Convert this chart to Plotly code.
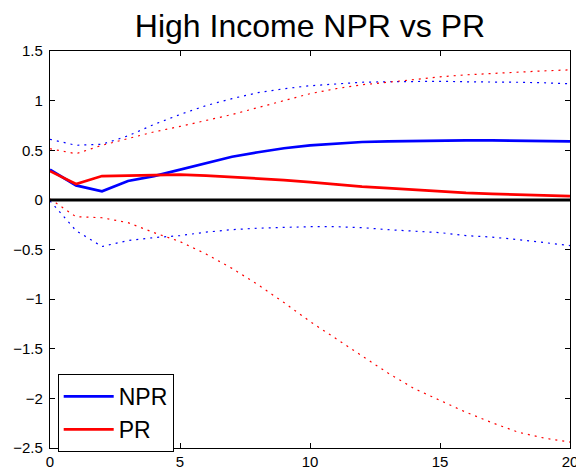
import plotly.graph_objects as go

x = list(range(21))

npr = [0.305, 0.146, 0.086, 0.19, 0.24, 0.305, 0.375, 0.435, 0.48, 0.52, 0.55,
       0.57, 0.583, 0.59, 0.595, 0.598, 0.6, 0.6, 0.598, 0.595, 0.59]
npr_upper = [0.61, 0.55, 0.56, 0.645, 0.76, 0.86, 0.95, 1.02, 1.08, 1.12, 1.15,
             1.17, 1.185, 1.19, 1.195, 1.195, 1.19, 1.19, 1.185, 1.18, 1.17]
npr_lower = [-0.01, -0.31, -0.47, -0.41, -0.38, -0.36, -0.325, -0.30, -0.285, -0.275, -0.27,
             -0.27, -0.28, -0.30, -0.315, -0.33, -0.36, -0.375, -0.40, -0.43, -0.46]

pr = [0.29, 0.16, 0.24, 0.247, 0.25, 0.255, 0.245, 0.232, 0.218, 0.2, 0.178,
      0.155, 0.133, 0.118, 0.1, 0.084, 0.07, 0.06, 0.052, 0.045, 0.038]
pr_upper = [0.515, 0.465, 0.55, 0.62, 0.685, 0.74, 0.80, 0.86, 0.93, 1.0, 1.07,
            1.12, 1.16, 1.185, 1.215, 1.24, 1.26, 1.275, 1.29, 1.30, 1.31]
pr_lower = [0.01, -0.17, -0.18, -0.23, -0.33, -0.42, -0.545, -0.69, -0.855, -1.035, -1.225,
            -1.40, -1.57, -1.745, -1.90, -2.02, -2.14, -2.245, -2.34, -2.40, -2.44]

zero = [0.0] * 21

x_ticks = [0, 5, 10, 15, 20]
x_ticktext = ["0", "5", "10", "15", "20"]
y_ticks = [-2.5, -2, -1.5, -1, -0.5, 0, 0.5, 1, 1.5]
y_ticktext = ["\u22122.5", "\u22122", "\u22121.5", "\u22121", "\u22120.5", "0", "0.5", "1", "1.5"]

BLUE = "#0000ff"
RED = "#ff0000"
DOT = "2px,5px"
FONT = "Liberation Sans, Arial, sans-serif"

fig = go.Figure()
fig.add_trace(go.Scatter(x=x, y=npr_upper, mode="lines", line=dict(color=BLUE, width=1.2, dash=DOT), showlegend=False))
fig.add_trace(go.Scatter(x=x, y=npr_lower, mode="lines", line=dict(color=BLUE, width=1.2, dash=DOT), showlegend=False))
fig.add_trace(go.Scatter(x=x, y=pr_upper, mode="lines", line=dict(color=RED, width=1.2, dash=DOT), showlegend=False))
fig.add_trace(go.Scatter(x=x, y=pr_lower, mode="lines", line=dict(color=RED, width=1.2, dash=DOT), showlegend=False))
fig.add_trace(go.Scatter(x=x, y=zero, mode="lines", line=dict(color="black", width=3), showlegend=False))
fig.add_trace(go.Scatter(x=x, y=npr, mode="lines", name="NPR", line=dict(color=BLUE, width=2.7)))
fig.add_trace(go.Scatter(x=x, y=pr, mode="lines", name="PR", line=dict(color=RED, width=2.7)))

axis_common = dict(
    showgrid=False, zeroline=False, showline=True, linecolor="black", linewidth=1.3,
    mirror="ticks", ticks="inside", ticklen=5, tickcolor="black", tickwidth=1,
    tickfont=dict(family=FONT, size=15, color="black"),
    ticklabeloverflow="allow", automargin=False,
)

fig.update_layout(
    width=576, height=470, autosize=False,
    margin=dict(l=50, r=6, t=51, b=22, autoexpand=False),
    paper_bgcolor="white", plot_bgcolor="white",
    title=dict(text="High Income NPR vs PR", x=0.5, xref="paper", xanchor="center",
               y=1 - 26 / 470, yref="container", yanchor="middle",
               font=dict(family=FONT, size=32, color="black")),
    xaxis=dict(range=[0, 20], tickvals=x_ticks, ticktext=x_ticktext, **axis_common),
    yaxis=dict(range=[-2.5, 1.5], tickvals=y_ticks, ticktext=y_ticktext, ticklabelstandoff=3, **axis_common),
    legend=dict(x=(57.7 - 50) / 520, y=(448 - 374) / 397, xanchor="left", yanchor="top",
                bgcolor="white", bordercolor="black", borderwidth=1,
                font=dict(family=FONT, size=23, color="black"),
                itemwidth=50, tracegroupgap=0),
)

fig.write_html("out.html", config={"displayModeBar": False, "responsive": False},
               post_script="document.body.style.margin='0';document.body.style.overflow='hidden';")
